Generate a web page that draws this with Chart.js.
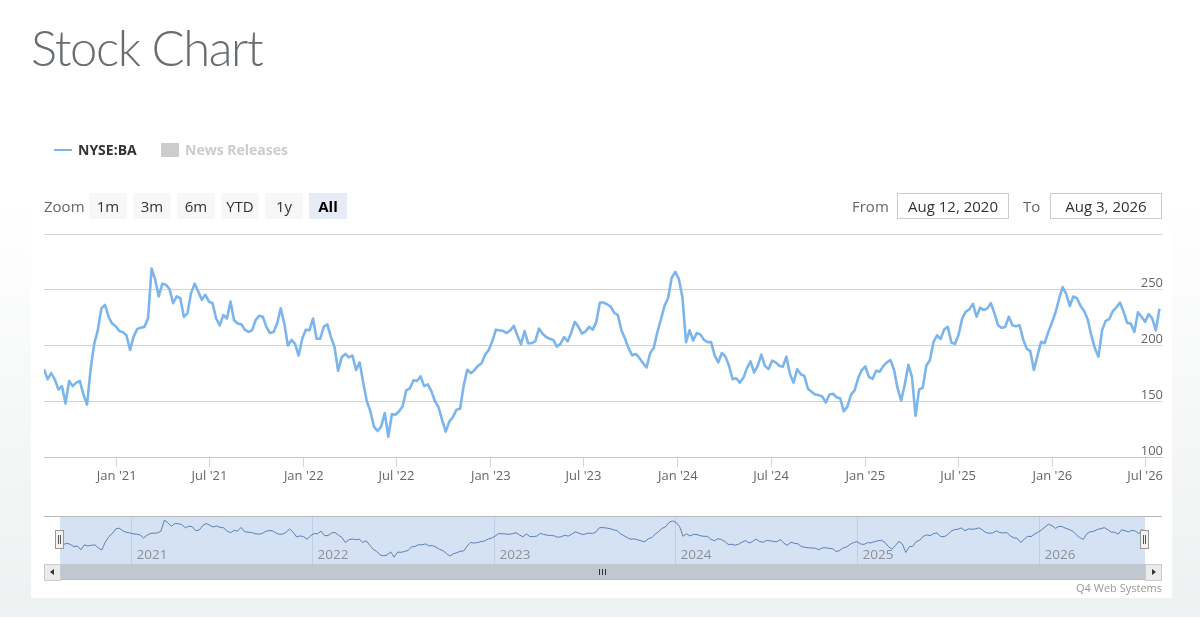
<!DOCTYPE html>
<html>
<head>
<meta charset="utf-8">
<script src="https://cdn.jsdelivr.net/npm/chart.js@4.4.1/dist/chart.umd.min.js"></script>
<style>
  html,body{margin:0;padding:0;}
  body{width:1200px;height:617px;overflow:hidden;position:relative;
       background:linear-gradient(180deg,#ffffff 0px,#ffffff 200px,#eef1f1 617px);
       font-family:"Open Sans",sans-serif;}
  .abs{position:absolute;}
  #panel{left:31px;top:90px;width:1141px;height:508px;background:#fff;}
  #title{left:31px;top:22px;font-family:Lato,sans-serif;font-weight:300;font-size:49px;line-height:50px;color:#686d72;letter-spacing:-1.4px;white-space:nowrap;}
  .leg{font-size:14px;font-weight:700;line-height:20px;white-space:nowrap;}
  .btn{top:193px;height:26px;width:38px;background:#f7f7f7;color:#333;font-size:15px;line-height:26px;text-align:center;}
  .lbl{font-size:15px;color:#666;line-height:26px;top:193px;}
  .inp{top:193px;height:24px;border:1px solid #cccccc;background:#fff;color:#333;font-size:15px;line-height:24px;text-align:center;}
  canvas{position:absolute;left:0;}
</style>
</head>
<body>
<div id="panel" class="abs"></div>
<div id="title" class="abs">Stock Chart</div>

<div class="abs" style="left:54px;top:149px;width:18px;height:2px;background:#7cb5ec;z-index:5"></div>
<div class="abs leg" style="left:78px;top:140px;color:#333;z-index:5">NYSE:BA</div>
<div class="abs" style="left:161px;top:143px;width:18px;height:14px;background:#cccccc;z-index:5"></div>
<div class="abs leg" style="left:185px;top:140px;color:#cccccc;z-index:5">News Releases</div>

<div class="abs lbl" style="left:44px;z-index:5">Zoom</div>
<div class="abs btn" style="left:89px;z-index:5">1m</div>
<div class="abs btn" style="left:133px;z-index:5">3m</div>
<div class="abs btn" style="left:177px;z-index:5">6m</div>
<div class="abs btn" style="left:221px;z-index:5">YTD</div>
<div class="abs btn" style="left:265px;z-index:5">1y</div>
<div class="abs btn" style="left:309px;background:#e6ebf5;color:#000;font-weight:700;z-index:5">All</div>

<div class="abs lbl" style="left:852px;z-index:5">From</div>
<div class="abs inp" style="left:897px;width:110px;z-index:5">Aug 12, 2020</div>
<div class="abs lbl" style="left:1023px;z-index:5">To</div>
<div class="abs inp" style="left:1050px;width:110px;z-index:5">Aug 3, 2026</div>

<canvas id="main" width="1200" height="497" style="top:0;width:1200px;height:497px;z-index:2"></canvas>

<!-- navigator -->
<div class="abs" style="left:44px;top:516px;width:1118px;height:1px;background:#b9b9bd;z-index:3"></div>
<div class="abs" style="left:60px;top:517px;width:1085px;height:47px;background:#d4e2f4;z-index:1"></div>
<canvas id="nav" width="1200" height="64" style="top:500px;width:1200px;height:64px;z-index:2"></canvas>
<div class="abs" style="left:55px;top:530px;width:7px;height:17px;background:#f2f2f2;border:1px solid #999;z-index:4">
  <div class="abs" style="left:2px;top:4px;width:1px;height:9px;background:#555"></div>
  <div class="abs" style="left:4px;top:4px;width:1px;height:9px;background:#555"></div>
</div>
<div class="abs" style="left:1140px;top:530px;width:7px;height:17px;background:#f2f2f2;border:1px solid #999;z-index:4">
  <div class="abs" style="left:2px;top:4px;width:1px;height:9px;background:#555"></div>
  <div class="abs" style="left:4px;top:4px;width:1px;height:9px;background:#555"></div>
</div>

<!-- scrollbar -->
<div class="abs" style="left:44px;top:564px;width:1118px;height:16px;background:#f2f2f2;z-index:3"></div>
<div class="abs" style="left:60px;top:564px;width:1085px;height:15px;background:#c0c7cf;border-bottom:1px solid #b4bbc3;z-index:3">
  <div class="abs" style="left:539px;top:5px;width:1px;height:6px;background:#333"></div>
  <div class="abs" style="left:542px;top:5px;width:1px;height:6px;background:#333"></div>
  <div class="abs" style="left:545px;top:5px;width:1px;height:6px;background:#333"></div>
</div>
<div class="abs" style="left:44px;top:564px;width:15px;height:15px;background:#ebebeb;border:1px solid #cccccc;z-index:4">
  <div class="abs" style="left:5px;top:4px;width:0;height:0;border-top:3px solid transparent;border-bottom:3px solid transparent;border-right:4px solid #333"></div>
</div>
<div class="abs" style="left:1145px;top:564px;width:15px;height:15px;background:#ebebeb;border:1px solid #cccccc;z-index:4">
  <div class="abs" style="left:6px;top:4px;width:0;height:0;border-top:3px solid transparent;border-bottom:3px solid transparent;border-left:4px solid #333"></div>
</div>
<div class="abs" style="right:38px;top:580px;font-size:11px;line-height:16px;color:#999;z-index:4">Q4 Web Systems</div>

<script>
// ---------------- data ----------------
const startDate = '2020-08-12';
const endDate = '2026-08-03';
const stepDays = 7; // weekly closes
const weeklyClose = [
  178.8,169.7,175.2,169.7,160.6,163.6,148,168.2,163.6,166.7,168.2,156,147,178.8,201.5,213.6,233.3,236.4,225.8,219.7,
  217.3,213,212,209,196,208,214.9,216,216.7,224.2,269,259,244,255.5,254.5,250.6,237.9,244,242.4,225.8,
  228.8,247,255.5,248.5,241,245.5,239.4,237.9,224.2,218,227.3,224.2,239.4,222.7,219.7,219,214.2,212.1,213.6,222.7,
  226.7,225.8,216.7,211.2,212.1,219.7,
  233.3,219.7,200,205,201.5,191,206,214.2,213.6,224.2,206,206,216.7,219,207.6,198.5,177.3,189.4,192.4,189.4,
  191,178,184.9,166.7,150,141,127.3,123.3,127.3,139.4,118.2,138.5,137.9,141,145.5,159.7,161.5,168.8,168.2,172.4,
  163.6,165.2,159.1,150,144.6,133.3,122.7,131.8,135.8,142.4,143.3,163.6,178.2,175.2,177.9,181.8,184,191.8,196,204,
  214.2,213.6,213,211.2,
  213.6,217.6,209,201,213,202,202,204,215.2,210.6,207.6,206,205,199,201.5,207.6,203.6,211.5,221.2,216.7,
  210.6,212.7,216.7,214.2,221.2,238.5,238.5,237,234.8,229.4,227.3,213.6,206,197.6,191.2,192.4,188.8,184.2,180.3,193,
  197.9,211.8,223.3,235.5,242.4,260.6,266,259.7,243.3,203,213.6,204.5,211.2,210,205.2,203,203,190.9,184.9,193.3,
  190,181.8,169.7,170.6,166.7,171,
  179.7,185.8,175.8,181.8,191.8,181.8,178.8,186.4,184.9,181.8,181,190,174.2,166.7,178.8,174.2,172.7,161.2,158.5,156,
  155.5,154.2,148.8,156,156.7,153.6,152.4,141,145.2,156,159.7,170.6,177.9,181.2,171.8,170,177.3,176.4,181.5,184.9,
  187,178.2,161.5,150.6,165.2,182.7,171.8,137,160.6,162.1,181.8,187,203,209,205.8,214.5,216.7,202.4,201.5,209.7,
  224.2,230.3,
  232.4,237.3,225.8,233.9,231.8,233.3,237.9,228.8,218.2,215.8,216.7,225.8,218.2,217.3,218.2,205.5,197,194.9,178,190.9,
  203.3,202.1,212.1,220.3,229.4,241.5,252.4,246.4,235.5,243.9,242.4,235.5,230.9,223.6,209.1,197.6,190,213.6,222.1,223.6,
  230.9,234.2,238.5,230.3,220.3,219.7,212.1,229.7,225.8,221.2,228.2,224.2,213.6,233
];
const xTickDates = ['2021-01-01','2021-07-01','2022-01-01','2022-07-01','2023-01-01','2023-07-01',
                    '2024-01-01','2024-07-01','2025-01-01','2025-07-01','2026-01-01','2026-07-01'];
const xTickLabels = ["Jan '21","Jul '21","Jan '22","Jul '22","Jan '23","Jul '23",
                     "Jan '24","Jul '24","Jan '25","Jul '25","Jan '26","Jul '26"];
const yTicks = [100,150,200,250,300];
const navYears = ['2021','2022','2023','2024','2025','2026'];

// ---------------- build ----------------
const DAY = 86400000;
const toMs = s => Date.parse(s + 'T00:00:00Z');
const startMs = toMs(startDate), endMs = toMs(endDate);
const points = weeklyClose.map((v,i) => ({x: startMs + i*stepDays*DAY, y: v}));
const xTickMs = xTickDates.map(toMs);

Chart.defaults.font.family = '"Open Sans", sans-serif';
Chart.defaults.color = '#666';

new Chart(document.getElementById('main'), {
  type: 'line',
  data: { datasets: [{ data: points, borderColor: '#7cb5ec', borderWidth: 2.6, pointRadius: 0, tension: 0, fill: false, borderJoinStyle: 'round' }] },
  options: {
    responsive: false, animation: false, events: [],
    layout: { padding: { left: 44, right: 38, top: 234, bottom: 0 } },
    plugins: { legend: { display: false }, tooltip: { enabled: false } },
    scales: {
      x: {
        type: 'linear', min: startMs, max: endMs,
        afterBuildTicks: s => { s.ticks = xTickMs.map(v => ({ value: v })); },
        afterFit: s => { s.height = 40; },
        ticks: { autoSkip: false, maxRotation: 0, padding: 1, color: '#666', font: { size: 13 },
                 callback: (v, i) => xTickLabels[i] },
        grid: { drawOnChartArea: false, drawTicks: true, tickLength: 10, color: '#ccd6eb' },
        border: { display: true, color: '#c8c8c8' }
      },
      y: {
        position: 'right', min: 100, max: 300,
        afterBuildTicks: s => { s.ticks = yTicks.map(v => ({ value: v })); },
        afterFit: s => { s.width = 0; },
        ticks: { mirror: true, padding: 1, labelOffset: -6, color: '#666', font: { size: 13 },
                 callback: v => (v === 300 ? '' : String(v)) },
        grid: { color: '#d2d2d2', drawTicks: false },
        border: { display: false }
      }
    }
  }
});

const navPlugin = {
  id: 'navYears',
  beforeDatasetsDraw(chart) {
    const { ctx, chartArea: a, scales: { x } } = chart;
    ctx.save();
    navYears.forEach(yr => {
      const px = Math.round(x.getPixelForValue(toMs(yr + '-01-01'))) + 0.5;
      ctx.strokeStyle = 'rgba(170,190,220,0.55)';
      ctx.lineWidth = 1;
      ctx.beginPath(); ctx.moveTo(px, a.top); ctx.lineTo(px, a.bottom); ctx.stroke();
      ctx.fillStyle = '#8a8f98';
      ctx.font = '13.5px "Open Sans", sans-serif';
      ctx.textAlign = 'left'; ctx.textBaseline = 'alphabetic';
      ctx.fillText(yr, px + 5, a.bottom - 5);
    });
    ctx.restore();
  }
};

new Chart(document.getElementById('nav'), {
  type: 'line',
  data: { datasets: [{ data: points, borderColor: '#5a7fb5', borderWidth: 1, pointRadius: 0, tension: 0, fill: false }] },
  options: {
    responsive: false, animation: false, events: [],
    layout: { padding: { left: 60, right: 55, top: 17, bottom: 0 } },
    plugins: { legend: { display: false }, tooltip: { enabled: false } },
    scales: {
      x: { type: 'linear', min: startMs, max: endMs, display: false },
      y: { min: 90, max: 282, display: false }
    }
  },
  plugins: [navPlugin]
});
</script>
</body>
</html>
